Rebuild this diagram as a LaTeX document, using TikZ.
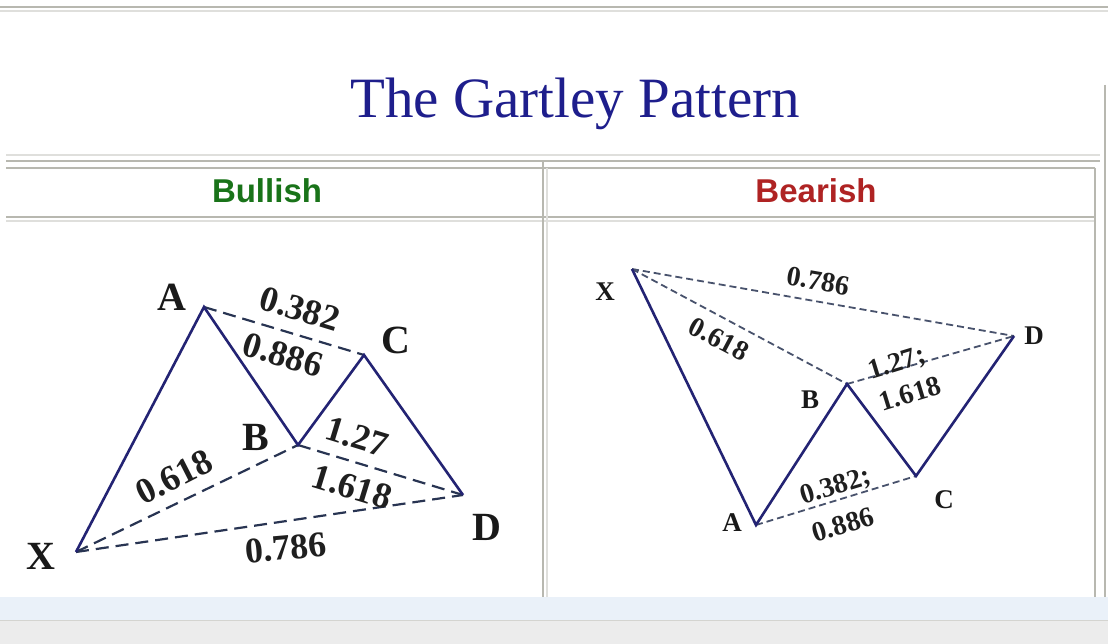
\documentclass[tikz,border=0pt]{standalone}
\usepackage{fontspec}
\setmainfont{Liberation Serif}
\setsansfont{Liberation Sans}
\usepackage{xcolor}
\usepackage{tikz}
\definecolor{titleblue}{RGB}{30,30,140}
\definecolor{bullgreen}{RGB}{25,115,25}
\definecolor{bearred}{RGB}{175,35,35}
\definecolor{legblue}{RGB}{35,35,115}
\definecolor{fibgray}{RGB}{40,52,82}
\definecolor{rulegray}{RGB}{184,184,176}
\definecolor{bandblue}{RGB}{234,241,249}
\definecolor{bandgray}{RGB}{236,236,236}

\begin{document}
\begin{tikzpicture}[x=1pt,y=-1pt,
  rule/.style={rulegray,line width=1.6pt},
  rulelight/.style={rulegray!45,line width=1.4pt},
  leg/.style={legblue,line width=2.6pt,line join=miter},
  fib/.style={fibgray,line width=2.2pt,dash pattern=on 13pt off 7pt},
  fibr/.style={fibgray!85,line width=1.8pt,dash pattern=on 7pt off 4pt},
  pt/.style={font=\fontsize{40}{40}\selectfont\bfseries,text=black!90,inner sep=0pt},
  ptr/.style={font=\fontsize{27}{27}\selectfont\bfseries,text=black!90,inner sep=0pt},
  num/.style={font=\fontsize{36}{36}\selectfont\bfseries,text=black!88,inner sep=0pt},
  numr/.style={font=\fontsize{28}{28}\selectfont\bfseries,text=black!88,inner sep=0pt},
  head/.style={font=\fontsize{33}{33}\selectfont\sffamily\bfseries,inner sep=0pt}]
\useasboundingbox (0,0) rectangle (1108,644);
\fill[white] (0,0) rectangle (1108,644);

% frame of the table
\draw[rule] (0,7) -- (1108,7);
\draw[rulelight] (0,11) -- (1108,11);
\draw[rulelight] (6,155) -- (1100,155);
\draw[rule] (6,161) -- (1100,161);
\draw[rule] (6,168) -- (1095,168);
\draw[rule] (6,217) -- (1095,217);
\draw[rulelight] (6,221) -- (1095,221);
\draw[rule] (543,161) -- (543,597);
\draw[rulelight] (547,168) -- (547,597);
\draw[rule] (1095,168) -- (1095,597);
\draw[rule] (1105,85) -- (1105,597);
\fill[bandblue] (0,597) rectangle (1108,620);
\fill[bandgray] (0,620) rectangle (1108,644);
\draw[rulegray!60,line width=1pt] (0,620) -- (1108,620);

\node[font=\fontsize{57}{57}\selectfont,text=titleblue,anchor=base] (title) at (575,118) {The Gartley Pattern};
\node[head,text=bullgreen] (bull) at (267,191) {Bullish};
\node[head,text=bearred] (bear) at (816,191) {Bearish};

% bullish
\coordinate (X) at (76,552); \coordinate (A) at (204,307); \coordinate (B) at (298,445);
\coordinate (C) at (364,355); \coordinate (D) at (463,495);
\draw[fib] (X) -- (B); \draw[fib] (X) -- (D);
\draw[fib] (A) -- (C); \draw[fib] (B) -- (D);
\draw[leg] (X) -- (A) -- (B) -- (C) -- (D);
\node[pt] (lX) at (41,556) {X};
\node[pt] (lA) at (172,297) {A};
\node[pt] (lB) at (256,437) {B};
\node[pt] (lC) at (396,340) {C};
\node[pt] (lD) at (487,527) {D};
\node[num,rotate=-17] (ac1) at (300,309) {0.382};
\node[num,rotate=-17] (ac2) at (283,355) {0.886};
\node[num,rotate=-17] (bd1) at (357,437) {1.27};
\node[num,rotate=-17] (bd2) at (352,487) {1.618};
\node[num,rotate=27] (xb) at (174,477) {0.618};
\node[num,rotate=5] (xd) at (286,548) {0.786};

% bearish
\coordinate (X') at (632,269); \coordinate (A') at (756,525); \coordinate (B') at (847,384);
\coordinate (C') at (916,476); \coordinate (D') at (1014,336);
\draw[fibr] (X') -- (D'); \draw[fibr] (X') -- (B');
\draw[fibr] (B') -- (D'); \draw[fibr] (A') -- (C');
\draw[leg] (X') -- (A') -- (B') -- (C') -- (D');
\node[ptr] (rX) at (605,292) {X};
\node[ptr] (rA) at (732,523) {A};
\node[ptr] (rB) at (810,400) {B};
\node[ptr] (rC) at (944,500) {C};
\node[ptr] (rD) at (1034,336) {D};
\node[numr,rotate=-10] (xd') at (818,281) {0.786};
\node[numr,rotate=-28] (xb') at (719,339) {0.618};
\node[numr,rotate=17] (bd1') at (897,364) {1.27;};
\node[numr,rotate=17] (bd2') at (910,394) {1.618};
\node[numr,rotate=17] (ac1') at (836,487) {0.382;};
\node[numr,rotate=17] (ac2') at (843,525) {0.886};
\end{tikzpicture}
\end{document}
